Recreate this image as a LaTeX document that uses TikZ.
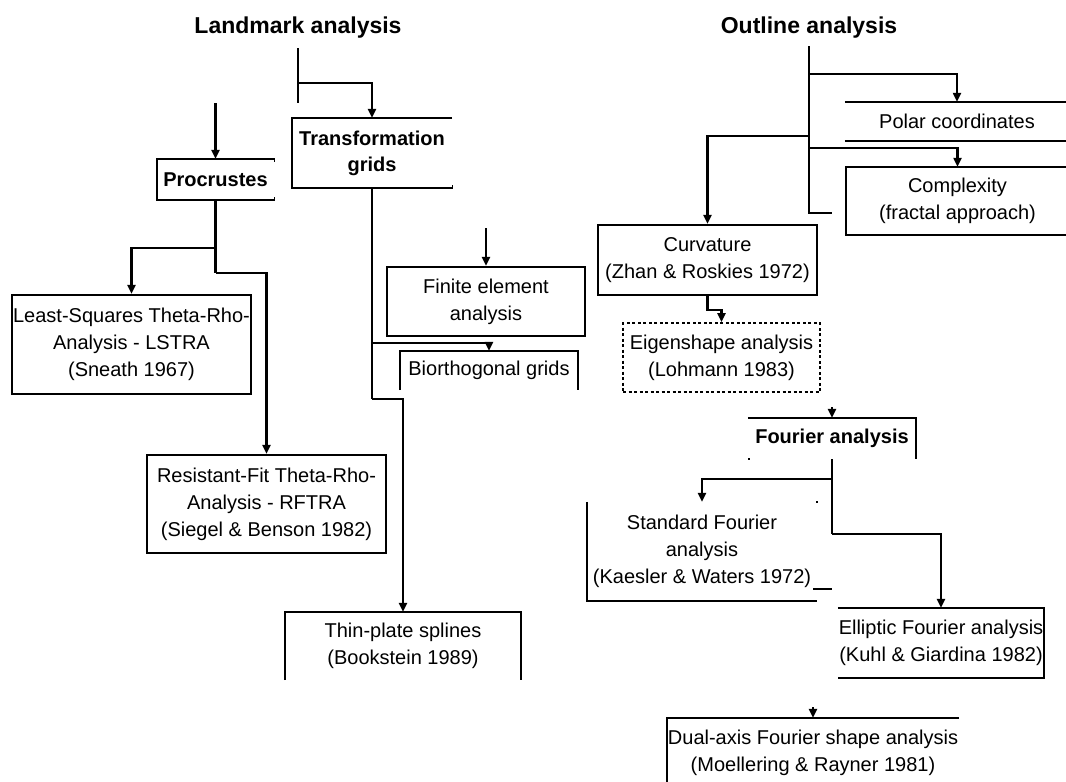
\documentclass[tikz,border=0pt]{standalone}
\usepackage{fontspec}
\setmainfont{Liberation Sans}
\usetikzlibrary{arrows.meta}
\begin{document}
\begin{tikzpicture}[x=1pt,y=-1pt,
  lbl/.style={inner sep=0pt, align=center, font=\fontsize{20}{27}\selectfont},
  blbl/.style={inner sep=0pt, align=center, font=\fontsize{20}{26}\selectfont\bfseries},
  ttl/.style={inner sep=0pt, font=\fontsize{23}{28}\selectfont\bfseries},
  side/.style={line width=2.4pt},
  fullbox/.style={draw, line width=2.4pt},
  dotbox/.style={draw, line width=1.7pt, dash pattern=on 3pt off 2.5pt},
  conn/.style={line width=2.2pt},
  arr/.style={conn, -{Triangle[width=8pt,length=9pt]}},
]
\useasboundingbox[fill=white] (0,0) rectangle (1066,782);

% ---------- titles ----------
\node[ttl] (lm) at (298,28) {Landmark analysis};
\node[ttl] (ol) at (809,28) {Outline analysis};

% ---------- landmark side ----------
\node[blbl, minimum width=117pt, minimum height=41pt] (proc) at (215.5,179.5) {Procrustes};
\node[blbl, minimum width=160pt, minimum height=70pt] (trans) at (372,153) {Transformation\\grids};
\node[lbl, fullbox, minimum width=239pt, minimum height=99pt] (lstra) at (131.5,344.5)
  {Least-Squares Theta-Rho-\\Analysis - LSTRA\\(Sneath 1967)};
\node[lbl, fullbox, minimum width=239pt, minimum height=98pt] (rftra) at (266.5,504)
  {Resistant-Fit Theta-Rho-\\Analysis - RFTRA\\(Siegel \& Benson 1982)};
\node[lbl, fullbox, minimum width=198pt, minimum height=69pt] (fem) at (486,301.5)
  {Finite element\\analysis};
\node[lbl, minimum width=178pt, minimum height=39pt] (bio) at (489,370.5) {Biorthogonal grids};
\node[lbl, minimum width=236pt, minimum height=68pt] (thin) at (403,646)
  {Thin-plate splines\\(Bookstein 1989)};

% partial borders
\draw[side] (proc.north east) -- (proc.north west) -- (proc.south west) -- (proc.south east);
\draw[side] (trans.north east) -- (trans.north west) -- (trans.south west) -- (trans.south east);
\draw[side] (bio.south west) -- (bio.north west) -- (bio.north east) -- (bio.south east);
\draw[side] (thin.south west) -- (thin.north west) -- (thin.north east) -- (thin.south east);
\fill (proc.north east) ++(0,-1) rectangle ++(1,4);
\fill (proc.south east) ++(0,1) rectangle ++(1,-4);
\fill (trans.south east) ++(0,1) rectangle ++(1,-4);

% connectors
\coordinate (lmA) at (298,48);
\coordinate (lmB) at (298,103);
\coordinate (lmJ) at (298,83);
\draw[conn] (lmA) -- (lmB);
\draw[arr] (lmJ) -| (trans.north);

\coordinate (procIn) at (215.5,103);
\draw[arr] (procIn) -- (proc.north);
\coordinate (procJ1) at (215.5,248);
\coordinate (procJ2) at (215.5,273);
\draw[conn] (proc.south) -- (procJ2);
\draw[arr] (procJ1) -| (lstra.north);
\draw[arr] (procJ2) -| (rftra.north);

\coordinate (trJ1) at (372,343);
\coordinate (trJ2) at (372,399);
\draw[conn] (trans.south) -- (trJ2);
\draw[arr] (trJ1) -| (bio.north);
\draw[arr] (trJ2) -| (thin.north);

\coordinate (femIn) at (486,228);
\draw[arr] (femIn) -- (fem.north);

% ---------- outline side ----------
\node[lbl, minimum width=224pt, minimum height=39pt] (polar) at (957,121.5) {Polar coordinates};
\node[lbl, minimum width=223pt, minimum height=68pt] (cplx) at (957.5,201)
  {Complexity\\(fractal approach)};
\node[lbl, fullbox, minimum width=219pt, minimum height=70pt] (curv) at (707.5,260)
  {Curvature\\(Zhan \& Roskies 1972)};
\node[lbl, dotbox, minimum width=197pt, minimum height=69pt] (eigen) at (721.5,357.5)
  {Eigenshape analysis\\(Lohmann 1983)};
\node[blbl, minimum width=168pt, minimum height=41pt] (fourier) at (832,438.5) {Fourier analysis};
\node[lbl, minimum width=230pt, minimum height=99pt] (std) at (702,551.5)
  {Standard Fourier\\analysis\\(Kaesler \& Waters 1972)};
\node[lbl, minimum width=206pt, minimum height=70pt] (ell) at (941,643)
  {Elliptic Fourier analysis\\(Kuhl \& Giardina 1982)};
\node[lbl, minimum width=292pt, minimum height=70pt] (dual) at (813,753)
  {Dual-axis Fourier shape analysis\\(Moellering \& Rayner 1981)};

% partial borders
\draw[side] (polar.north west) -- (polar.north east);
\draw[side] (polar.south west) -- (polar.south east);
\draw[side] (cplx.north east) -- (cplx.north west) -- (cplx.south west) -- (cplx.south east);
\draw[side] (fourier.north west) -- (fourier.north east) -- (fourier.south east);
\fill (fourier.south west) ++(0,-1) rectangle ++(2,2);
\draw[side] (std.north west) -- (std.south west) -- (std.south east);
\fill (std.north east) ++(-1,-1) rectangle ++(2,2);
\draw[side] (ell.north west) -- (ell.north east) -- (ell.south east) -- (ell.south west);
\draw[side] (dual.north east) -- (dual.north west) -- (dual.south west);

% connectors
\coordinate (olA) at (809,46);
\coordinate (olB) at (809,213);
\coordinate (olS) at (832,213);
\coordinate (olJ1) at (809,74);
\coordinate (olJ2) at (809,136);
\coordinate (olJ3) at (809,148);
\draw[conn] (olA) -- (olB) -- (olS);
\draw[arr] (olJ1) -| (polar.north);
\draw[arr] (olJ2) -| (curv.north);
\draw[arr] (olJ3) -| (cplx.north);

\draw[arr] (curv.south) -- ++(0,14) -| (eigen.north);

\coordinate (fouIn) at (832,407);
\draw[arr] (fouIn) -- (fourier.north);
\coordinate (fouJ1) at (832,479);
\coordinate (fouJ2) at (832,534);
\draw[conn] (fourier.south) -- (fouJ2);
\draw[arr] (fouJ1) -| (std.north);
\draw[arr] (fouJ2) -| (ell.north);
\coordinate (stdS1) at (813,589);
\coordinate (stdS2) at (832,589);
\draw[conn] (stdS1) -- (stdS2);

\coordinate (dualIn) at (813,707);
\draw[arr] (dualIn) -- (dual.north);
\end{tikzpicture}
\end{document}
